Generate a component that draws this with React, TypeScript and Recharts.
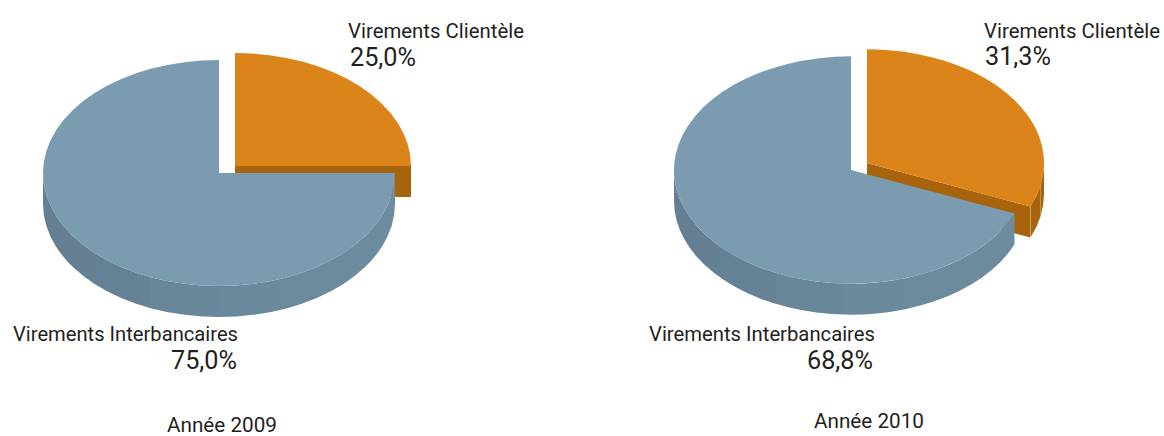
import { PieChart, Pie } from 'recharts'

const names = ['Virements Clientèle', 'Virements Interbancaires']
const values2009 = [25.0, 75.0]
const values2010 = [31.3, 68.8]
const years = ['Année 2009', 'Année 2010']

const toRows = (values: number[]) => values.map((value, i) => ({ name: names[i], value }))
const data2009 = toRows(values2009)
const data2010 = toRows(values2010)

const SQUASH = 0.642
const DEPTH = 31
const FONT = 'Roboto, "Open Sans", sans-serif'
const TOP_FILL = ['#DB8419', '#7A9BB0']
const FACE_FILL = ['#A8640C', '#6B899E']
const WALL_FILL = ['#A8640C', 'url(#wallBlue)']
// the clientele slice is pulled out of the pie, up and to the right
const EXPLODE = [{ x: 16, y: -7 }, { x: 0, y: 0 }]

const rad = (a: number) => (a * Math.PI) / 180

function Slice3D(props: any) {
  const { cx, cy, outerRadius, startAngle, endAngle, index } = props
  const ox = cx + EXPLODE[index].x
  const oy = cy + EXPLODE[index].y
  const rx = outerRadius
  const ry = outerRadius * SQUASH
  const pt = (a: number, drop = 0) => [ox + rx * Math.cos(rad(a)), oy - ry * Math.sin(rad(a)) + drop]
  const s = Math.max(startAngle, endAngle)
  const e = Math.min(startAngle, endAngle)
  const [sx, sy] = pt(s)
  const [ex, ey] = pt(e)
  const large = s - e > 180 ? 1 : 0
  const top = `M${ox},${oy}L${sx},${sy}A${rx},${ry} 0 ${large} 1 ${ex},${ey}Z`
  const face = `M${ox},${oy}L${ex},${ey}L${ex},${ey + DEPTH}L${ox},${oy + DEPTH}Z`

  // outer wall only shows on the front half of the ellipse
  const ws = Math.min(s, 0)
  const we = Math.max(e, -180)
  let wall = ''
  if (ws > we) {
    const [ax, ay] = pt(ws)
    const [bx, by] = pt(we)
    wall = `M${ax},${ay}A${rx},${ry} 0 0 1 ${bx},${by}L${bx},${by + DEPTH}A${rx},${ry} 0 0 0 ${ax},${ay + DEPTH}Z`
  }
  // light seams on the orange wall
  const seams = wall && index === 0 ? [e, (e + ws) / 2] : []
  return (
    <g>
      <path d={face} fill={FACE_FILL[index]} />
      {wall && <path d={wall} fill={WALL_FILL[index]} />}
      <path d={top} fill={TOP_FILL[index]} />
      {seams.map((a) => {
        const [lx, ly] = pt(a)
        return <line key={a} x1={lx} y1={ly} x2={lx} y2={ly + DEPTH} stroke="#D9B47E" strokeWidth={0.6} />
      })}
    </g>
  )
}

const makeLabel = (spots: { nx: number; ny: number; vx: number; vy: number; nw: number; vw: number }[]) => (props: any) => {
  const { index, name, value } = props
  const p = spots[index]
  return (
    <g key={name} fill="#231F20" fontFamily={FONT}>
      <text x={p.nx} y={p.ny} fontSize={20.5} textLength={p.nw} lengthAdjust="spacingAndGlyphs">{name}</text>
      <text x={p.vx} y={p.vy} fontSize={25} textLength={p.vw} lengthAdjust="spacingAndGlyphs">
        {value.toFixed(1).replace('.', ',')}%
      </text>
    </g>
  )
}

const label2009 = makeLabel([
  { nx: 348, ny: 38, vx: 350, vy: 66, nw: 176, vw: 66 },
  { nx: 13, ny: 341, vx: 171, vy: 369, nw: 225, vw: 66 },
])
const label2010 = makeLabel([
  { nx: 984, ny: 38, vx: 985, vy: 65, nw: 176, vw: 66 },
  { nx: 649, ny: 341, vx: 807, vy: 369, nw: 226, vw: 66 },
])

export default function App() {
  return (
    <div style={{ position: 'absolute', left: 0, top: 0 }}>
      <PieChart width={1164} height={436} margin={{ top: 0, right: 0, bottom: 0, left: 0 }}>
        <defs>
          <linearGradient id="wallBlue" x1="0" y1="0" x2="1" y2="0">
            <stop offset="0" stopColor="#647F93" />
            <stop offset="0.3" stopColor="#668296" />
            <stop offset="0.3" stopColor="#688599" />
            <stop offset="0.5" stopColor="#6A889C" />
            <stop offset="0.5" stopColor="#6B899D" />
            <stop offset="1" stopColor="#6D8CA0" />
          </linearGradient>
        </defs>
        <Pie
          data={data2009}
          dataKey="value"
          nameKey="name"
          cx={219}
          cy={173}
          outerRadius={176}
          startAngle={90}
          endAngle={-270}
          stroke="none"
          shape={Slice3D}
          label={label2009}
          labelLine={false}
          isAnimationActive={false}
        />
        <Pie
          data={data2010}
          dataKey="value"
          nameKey="name"
          cx={851}
          cy={170}
          outerRadius={177}
          startAngle={90}
          endAngle={-270}
          stroke="none"
          shape={Slice3D}
          label={label2010}
          labelLine={false}
          isAnimationActive={false}
        />
        <text x={167} y={432} fontSize={21} fill="#231F20" fontFamily={FONT} textLength={110} lengthAdjust="spacingAndGlyphs">{years[0]}</text>
        <text x={814} y={428} fontSize={21} fill="#231F20" fontFamily={FONT} textLength={110} lengthAdjust="spacingAndGlyphs">{years[1]}</text>
      </PieChart>
    </div>
  )
}
